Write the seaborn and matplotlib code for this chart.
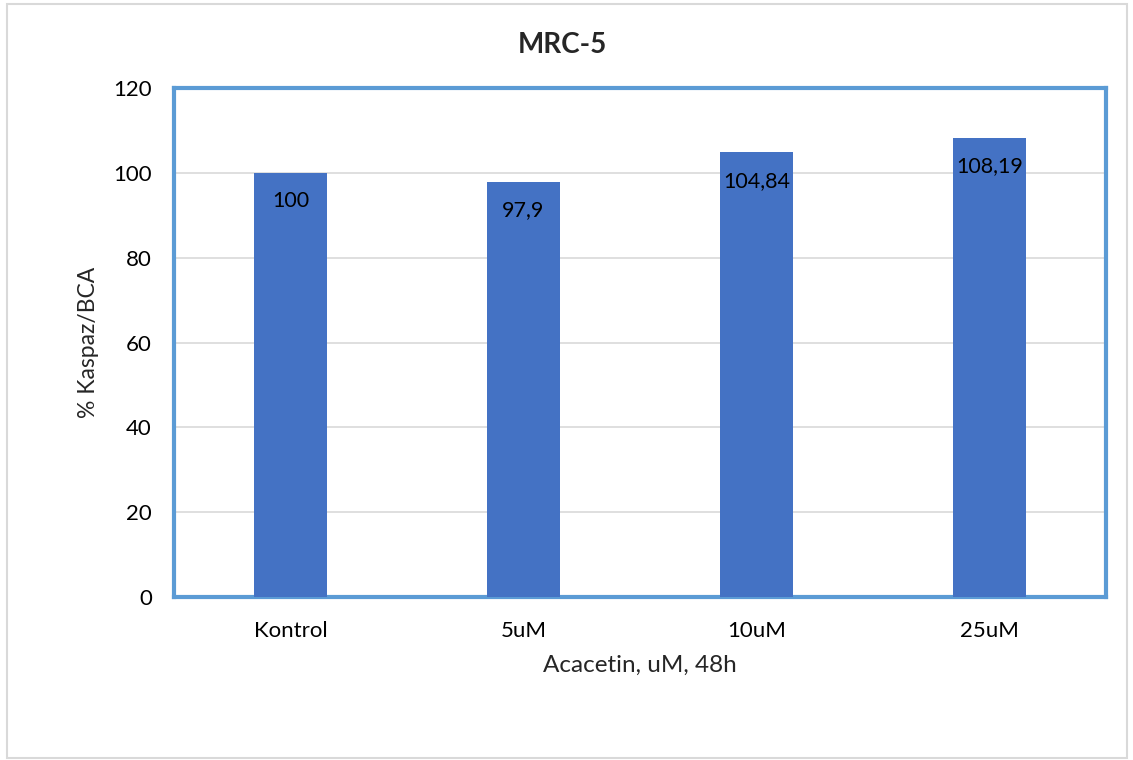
import matplotlib
matplotlib.use('Agg')
import matplotlib.pyplot as plt
import seaborn as sns
import pandas as pd
from matplotlib.patches import Rectangle

groups = ['Kontrol', '5uM', '10uM', '25uM']
values = [100, 97.9, 104.84, 108.19]
value_labels = ['100', '97,9', '104,84', '108,19']

df = pd.DataFrame({'group': groups, 'value': values})

sns.set_style('white')
plt.rcParams['font.family'] = ['Lato', 'DejaVu Sans']

fig = plt.figure(figsize=(11.33, 7.6), dpi=100)
ax = fig.add_axes([174 / 1133, 1 - 597 / 760, 932 / 1133, 509 / 760])

sns.barplot(data=df, x='group', y='value', color='#4472C4', width=0.31,
            saturation=1, linewidth=0, ax=ax, zorder=3)

ax.set_ylim(0, 120)
ax.set_xlim(-0.5, 3.5)
ax.set_yticks(range(0, 121, 20))
ax.yaxis.grid(True, color='#d9d9d9', linewidth=1.2, zorder=0)
ax.tick_params(axis='both', length=0, labelsize=16, colors='black')
ax.tick_params(axis='x', pad=17)
ax.tick_params(axis='y', pad=16)

for sp in ax.spines.values():
    sp.set_color('#5B9BD5')
    sp.set_linewidth(3)

for i, lab in enumerate(value_labels):
    ax.text(i, values[i] - 6.7, lab, ha='center', va='center', fontsize=15.5, color='black', zorder=4)

ax.set_xlabel('Acacetin, uM, 48h', fontsize=17.5, labelpad=10)
ax.set_ylabel('% Kaspaz/BCA', fontsize=16.5, labelpad=10)

fig.text(562 / 1133, 1 - 45 / 760, 'MRC-5', ha='center', va='center', fontsize=20, fontweight='bold')

fig.patches.append(Rectangle((7 / 1133, 2 / 760), 1120 / 1133, 754 / 760, transform=fig.transFigure,
                             fill=False, edgecolor='#d9d9d9', linewidth=1.5))

fig.savefig('out.png', dpi=100)
